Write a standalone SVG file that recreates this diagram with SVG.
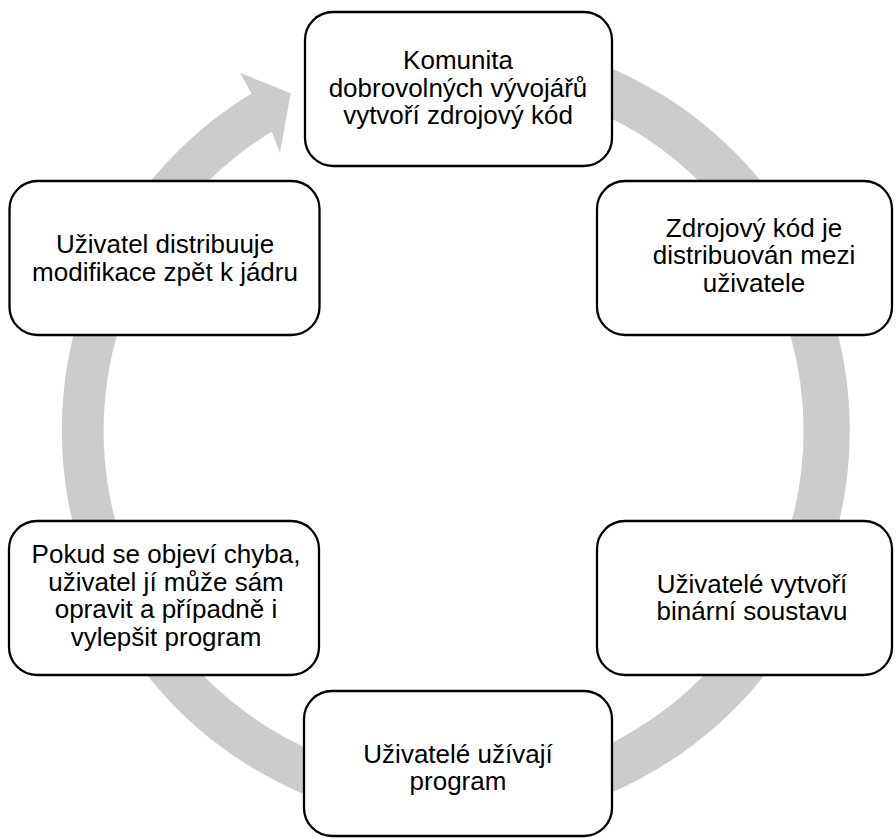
<svg xmlns="http://www.w3.org/2000/svg" width="896" height="838" viewBox="0 0 896 838">
<style>
.box{fill:#ffffff;stroke:#000000;stroke-width:2.3}
.t{font-family:"Liberation Sans",Arial,sans-serif;font-size:26px;fill:#000000;text-anchor:middle}
.ring{fill:#cccccc;stroke:none}
</style>
<rect width="896" height="838" fill="#ffffff"/>
<g id="connectors">
<path class="ring" d="M 389.6 42.0 A 394 394 0 1 1 251.5 93.5 L 240 72.7 L 290.7 93.3 L 280 153 L 271.7 131.7 A 350 350 0 1 0 397.2 85.3 Z"/>
</g>
<g id="n1">
<rect class="box" x="305" y="12" width="307" height="154" rx="28"/>
<text class="t" x="458" y="69">Komunita</text>
<text class="t" x="458" y="96.5">dobrovolných vývojářů</text>
<text class="t" x="458" y="124">vytvoří zdrojový kód</text>
</g>
<g id="n2">
<rect class="box" x="597" y="181" width="295" height="154" rx="28"/>
<text class="t" x="754" y="236.7">Zdrojový kód je</text>
<text class="t" x="754" y="264.3">distribuován mezi</text>
<text class="t" x="754" y="291.7">uživatele</text>
</g>
<g id="n3">
<rect class="box" x="597" y="521" width="295" height="154" rx="28"/>
<text class="t" x="752" y="592.7">Uživatelé vytvoří</text>
<text class="t" x="752" y="620">binární soustavu</text>
</g>
<g id="n4">
<rect class="box" x="304" y="691" width="308" height="145" rx="28"/>
<text class="t" x="458" y="763.3">Uživatelé užívají</text>
<text class="t" x="458" y="790">program</text>
</g>
<g id="n5">
<rect class="box" x="9" y="521" width="310" height="154" rx="28"/>
<text class="t" x="166" y="563.3">Pokud se objeví chyba,</text>
<text class="t" x="166" y="591">uživatel jí může sám</text>
<text class="t" x="166" y="618.3">opravit a případně i</text>
<text class="t" x="166" y="646">vylepšit program</text>
</g>
<g id="n6">
<rect class="box" x="9.5" y="181" width="310" height="154" rx="28"/>
<text class="t" x="165" y="253.3">Uživatel distribuuje</text>
<text class="t" x="165" y="281">modifikace zpět k jádru</text>
</g>
</svg>
